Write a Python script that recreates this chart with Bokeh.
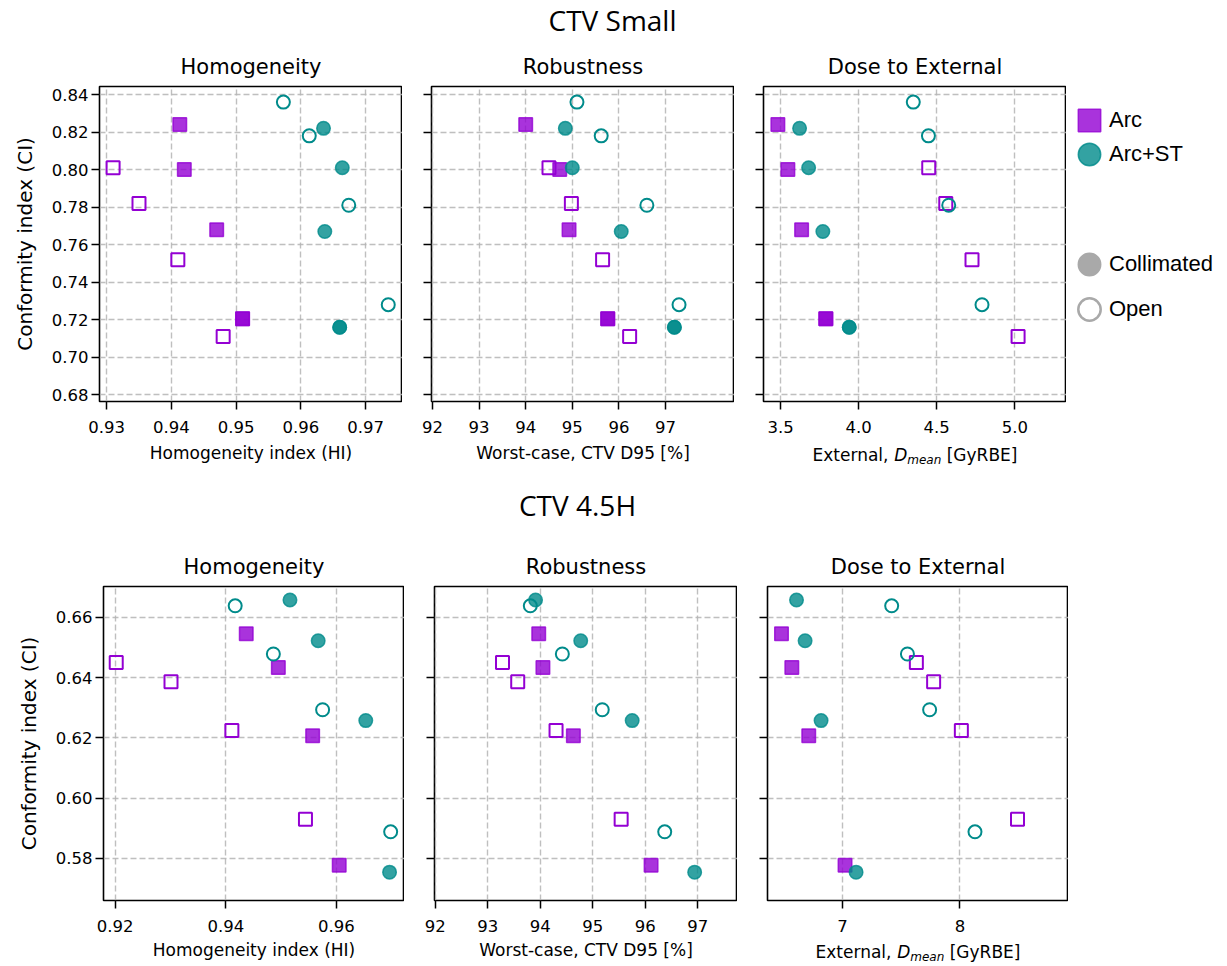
from bokeh.plotting import figure
from bokeh.layouts import column, row
from bokeh.models import (Range1d, FixedTicker, Label, Legend, LegendItem,
                          CustomJSTickFormatter, PrintfTickFormatter)
from bokeh.embed import file_html
from bokeh.resources import INLINE

NAN = float("nan")

# ---------------- data: CTV Small ----------------
small_arc_coll_hi = [0.9413, 0.9420, 0.9470, 0.9510, 0.9510]
small_arc_coll_d95 = [94.00, 94.73, 94.93, 95.76, 95.76]
small_arc_coll_ext = [3.483, 3.547, 3.635, 3.790, 3.790]
small_arc_coll_ci = [0.824, 0.800, 0.768, 0.7205, 0.7205]

small_arc_open_hi = [0.9310, 0.9350, 0.9410, 0.9480]
small_arc_open_d95 = [94.50, 94.98, 95.65, 96.23]
small_arc_open_ext = [4.449, 4.558, 4.726, 5.021]
small_arc_open_ci = [0.801, 0.782, 0.752, 0.711]

small_st_coll_hi = [0.9635, 0.9664, 0.9637, 0.9660, 0.9660]
small_st_coll_d95 = [94.85, 95.00, 96.05, 97.19, 97.19]
small_st_coll_ext = [3.622, 3.680, 3.771, 3.940, 3.940]
small_st_coll_ci = [0.822, 0.801, 0.767, 0.716, 0.716]

small_st_open_hi = [0.9573, 0.9613, 0.9674, 0.9735]
small_st_open_d95 = [95.10, 95.62, 96.60, 97.29]
small_st_open_ext = [4.350, 4.447, 4.577, 4.790]
small_st_open_ci = [0.836, 0.818, 0.781, 0.728]

# ---------------- data: CTV 4.5H ----------------
h_arc_coll_hi = [0.9437, 0.9495, 0.9557, 0.9605]
h_arc_coll_d95 = [93.97, 94.05, 94.63, 96.11]
h_arc_coll_ext = [6.481, 6.569, 6.713, 7.022]
h_arc_coll_ci = [0.6545, 0.6433, 0.6207, 0.5777]

h_arc_open_hi = [0.9202, 0.9301, 0.9411, 0.9544]
h_arc_open_d95 = [93.28, 93.57, 94.30, 95.54]
h_arc_open_ext = [7.629, 7.776, 8.012, 8.490]
h_arc_open_ci = [0.6450, 0.6386, 0.6224, 0.5930]

h_st_coll_hi = [0.9516, 0.9567, 0.9653, 0.9696]
h_st_coll_d95 = [93.91, 94.77, 95.75, 96.94]
h_st_coll_ext = [6.609, 6.682, 6.818, 7.116]
h_st_coll_ci = [0.6657, 0.6522, 0.6257, 0.5754]

h_st_open_hi = [0.9417, 0.9486, 0.9575, 0.9698]
h_st_open_d95 = [93.81, 94.42, 95.18, 96.37]
h_st_open_ext = [7.419, 7.553, 7.742, 8.128]
h_st_open_ci = [0.6638, 0.6478, 0.6293, 0.5888]

# ticks
small_ci_ticks = [0.68, 0.70, 0.72, 0.74, 0.76, 0.78, 0.80, 0.82, 0.84]
h_ci_ticks = [0.58, 0.60, 0.62, 0.64, 0.66]
small_hi_ticks = [0.93, 0.94, 0.95, 0.96, 0.97]
small_d95_ticks = [92, 93, 94, 95, 96, 97]
small_ext_ticks = [3.5, 4.0, 4.5, 5.0]
h_hi_ticks = [0.92, 0.94, 0.96]
h_d95_ticks = [92, 93, 94, 95, 96, 97]
h_ext_ticks = [7, 8]

panel_titles = ["Homogeneity", "Robustness", "Dose to External"]
suptitles = ["CTV Small", "CTV 4.5H"]
x_labels = ["Homogeneity index (HI)", "Worst-case, CTV D95 [%]"]
y_label = "Conformity index (CI)"
legend_labels = ["Arc", "Arc+ST", "Collimated", "Open"]

PURPLE = "#9400D3"
TEAL = "#008B8B"
GREY = "#a9a9a9"
FONT = "DejaVu Sans"

# DejaVu Sans advance widths (em) for the mixed-style label
ADV = {"E": .632, "x": .592, "t": .392, "e": .615, "r": .411, "n": .634, "a": .613,
       "l": .278, ",": .318, " ": .318, "D": .770, "m": .974, "[": .390, "G": .775,
       "y": .592, "R": .695, "B": .686, "]": .390}


def tw(s, size):
    return sum(ADV.get(c, 0.6) for c in s) * size


def blank_fig(w, h, xr=(0, 1), yr=(0, 1)):
    f = figure(width=w, height=h, x_range=Range1d(*xr), y_range=Range1d(*yr),
               output_backend="svg", toolbar_location=None, min_border=0,
               x_axis_location=None, y_axis_location=None, outline_line_color=None,
               background_fill_color="white", border_fill_color="white")
    f.grid.visible = False
    return f


def dmean_strip(w, h, frame_w, center_from_bottom):
    f = blank_fig(w, h)
    fs, fss = 17, 12
    total = tw("External, ", fs) + tw("D", fs) + tw("mean", fss) + tw(" [GyRBE]", fs)
    x0 = frame_w / 2 - total / 2
    xd = x0 + tw("External, ", fs)
    xm = xd + tw("D", fs)
    xb = xm + tw("mean", fss) + tw(" ", fs)
    c = center_from_bottom
    for txt, x, y, size, style in [("External,", x0, c, fs, "normal"),
                                    ("D", xd, c, fs, "italic"),
                                    ("mean", xm, c - 5.5, fss, "italic"),
                                    ("[GyRBE]", xb, c, fs, "normal")]:
        f.add_layout(Label(x=x, y=y, x_units="screen", y_units="screen", text=txt,
                           text_font=FONT, text_font_size=f"{size}px",
                           text_font_style=style, text_color="black",
                           text_align="left", text_baseline="middle"))
    return f


def make_panel(title, xr, yr, xticks, yticks, fw, fh, bl, bt, bb, left, xlabel,
               xfmt, yfmt, xl_standoff, xa_standoff):
    p = figure(frame_width=fw, frame_height=fh, x_range=Range1d(*xr), y_range=Range1d(*yr),
               output_backend="svg", toolbar_location=None,
               min_border_left=bl, min_border_right=0, min_border_top=bt, min_border_bottom=bb,
               background_fill_color="white", border_fill_color="white")
    p.title.text = title
    p.title.align = "center"
    p.title.text_font = FONT
    p.title.text_font_size = "21px"
    p.title.text_font_style = "normal"
    p.title.text_color = "black"
    p.title.standoff = 16
    p.outline_line_color = "black"
    p.outline_line_width = 1.6
    p.outline_line_alpha = 1.0
    for ax in (p.xaxis[0], p.yaxis[0]):
        ax.axis_line_color = None
        ax.major_tick_line_color = "black"
        ax.major_tick_line_width = 1.5
        ax.major_tick_out = 8
        ax.major_tick_in = 0
        ax.minor_tick_line_color = None
        ax.major_label_text_font = FONT
        ax.major_label_text_font_size = "16.5px"
        ax.major_label_text_color = "black"
        ax.axis_label_text_font = FONT
        ax.axis_label_text_font_style = "normal"
        ax.axis_label_text_color = "black"
    p.xaxis.ticker = FixedTicker(ticks=xticks)
    p.yaxis.ticker = FixedTicker(ticks=yticks)
    p.xaxis.formatter = PrintfTickFormatter(format=xfmt)
    p.xaxis.major_label_standoff = xl_standoff
    p.xaxis.axis_label_standoff = xa_standoff
    p.xaxis.axis_label_text_font_size = "17px"
    if xlabel is not None:
        p.xaxis.axis_label = xlabel
    p.yaxis.major_label_standoff = 3
    if left:
        p.yaxis.formatter = PrintfTickFormatter(format=yfmt)
        p.yaxis.axis_label = y_label
        p.yaxis.axis_label_text_font_size = "20px"
        p.yaxis.axis_label_standoff = 12
    else:
        p.yaxis.formatter = CustomJSTickFormatter(code="return '';")
    p.grid.grid_line_color = "#b4b4b4"
    p.grid.grid_line_width = 1.4
    p.grid.grid_line_dash = "6 3"
    p.grid.grid_line_alpha = 0.85
    return p


def draw_groups(p, arc_open, arc_coll, st_coll, st_open):
    p.scatter(arc_open[0], arc_open[1], marker="square", size=13, fill_color=None,
              line_color=PURPLE, line_width=2)
    p.scatter(arc_coll[0], arc_coll[1], marker="square", size=13.5, fill_color=PURPLE,
              fill_alpha=0.8, line_color=PURPLE, line_alpha=0.8, line_width=1.5)
    p.scatter(st_coll[0], st_coll[1], marker="circle", size=13.5, fill_color=TEAL,
              fill_alpha=0.8, line_color=TEAL, line_alpha=0.8, line_width=1.5)
    p.scatter(st_open[0], st_open[1], marker="circle", size=13, fill_color=None,
              line_color=TEAL, line_width=2)


# ---------------- row 1 (CTV Small) ----------------
Y1 = (0.6764, 0.8443)
FH1 = 315
BT1 = 42
tl = make_panel(panel_titles[0], (0.9289, 0.9757), Y1, small_hi_ticks, small_ci_ticks,
                303, FH1, 99, BT1, 69, True, x_labels[0], "%.2f", "%.2f", 11, 7)
tm = make_panel(panel_titles[1], (91.979, 98.48), Y1, small_d95_ticks, small_ci_ticks,
                303, FH1, 29, BT1, 69, False, x_labels[1], "%d", "%.2f", 11, 7)
tr = make_panel(panel_titles[2], (3.391, 5.331), Y1, small_ext_ticks, small_ci_ticks,
                303, FH1, 29, BT1, 40, False, None, "%.1f", "%.2f", 11, 7)
draw_groups(tl, (small_arc_open_hi, small_arc_open_ci), (small_arc_coll_hi, small_arc_coll_ci),
            (small_st_coll_hi, small_st_coll_ci), (small_st_open_hi, small_st_open_ci))
draw_groups(tm, (small_arc_open_d95, small_arc_open_ci), (small_arc_coll_d95, small_arc_coll_ci),
            (small_st_coll_d95, small_st_coll_ci), (small_st_open_d95, small_st_open_ci))
draw_groups(tr, (small_arc_open_ext, small_arc_open_ci), (small_arc_coll_ext, small_arc_coll_ci),
            (small_st_coll_ext, small_st_coll_ci), (small_st_open_ext, small_st_open_ci))
strip1 = dmean_strip(29 + 303, 29, 303, 16)

# legend figure
leg = blank_fig(161, BT1 + FH1 + 69)
r_arc = leg.rect(x=[NAN], y=[NAN], width=1, height=1, fill_color=PURPLE, fill_alpha=0.8,
                 line_color=PURPLE, line_alpha=0.8, line_width=1.5)
r_st = leg.ellipse(x=[NAN], y=[NAN], width=22, height=22, width_units="screen",
                   height_units="screen", fill_color=TEAL, fill_alpha=0.8,
                   line_color=TEAL, line_alpha=0.8, line_width=1.5)
r_coll = leg.ellipse(x=[NAN], y=[NAN], width=22, height=22, width_units="screen",
                     height_units="screen", fill_color=GREY, fill_alpha=1.0,
                     line_color=GREY, line_width=1.5)
r_open = leg.ellipse(x=[NAN], y=[NAN], width=22, height=22, width_units="screen",
                     height_units="screen", fill_color=None, line_color=GREY, line_width=2.5)


def mk_legend(items, loc, spacing):
    return Legend(items=items, location=loc, orientation="vertical", glyph_width=28,
                  glyph_height=28, spacing=spacing, padding=0, margin=0,
                  border_line_color=None, background_fill_alpha=0,
                  label_text_font="Liberation Sans", label_text_font_size="22px",
                  label_text_color="black", label_standoff=6, label_height=28)


leg.add_layout(mk_legend([LegendItem(label=legend_labels[0], renderers=[r_arc]),
                          LegendItem(label=legend_labels[1], renderers=[r_st])], (9, 233), 6))
leg.add_layout(mk_legend([LegendItem(label=legend_labels[2], renderers=[r_coll]),
                          LegendItem(label=legend_labels[3], renderers=[r_open])], (9, 78), 17))

# ---------------- row 2 (CTV 4.5H) ----------------
Y2 = (0.5660, 0.6702)
FH2 = 314
bl_ = make_panel(panel_titles[0], (0.9179, 0.9723), Y2, h_hi_ticks, h_ci_ticks,
                 301, FH2, 103, 46, 66, True, x_labels[0], "%.2f", "%.2f", 11, 5)
bm = make_panel(panel_titles[1], (91.985, 97.756), Y2, h_d95_ticks, h_ci_ticks,
                303, FH2, 30, 46, 66, False, x_labels[1], "%d", "%.2f", 11, 5)
br = make_panel(panel_titles[2], (6.362, 8.924), Y2, h_ext_ticks, h_ci_ticks,
                301, FH2, 30, 46, 40, False, None, "%d", "%.2f", 11, 5)
draw_groups(bl_, (h_arc_open_hi, h_arc_open_ci), (h_arc_coll_hi, h_arc_coll_ci),
            (h_st_coll_hi, h_st_coll_ci), (h_st_open_hi, h_st_open_ci))
draw_groups(bm, (h_arc_open_d95, h_arc_open_ci), (h_arc_coll_d95, h_arc_coll_ci),
            (h_st_coll_d95, h_st_coll_ci), (h_st_open_d95, h_st_open_ci))
draw_groups(br, (h_arc_open_ext, h_arc_open_ci), (h_arc_coll_ext, h_arc_coll_ci),
            (h_st_coll_ext, h_st_coll_ci), (h_st_open_ext, h_st_open_ci))
strip2 = dmean_strip(30 + 301, 26, 301, 15)


# ---------------- super titles ----------------
def sup_fig(text, h, cx, cy):
    f = blank_fig(1227, h)
    f.add_layout(Label(x=cx, y=cy, x_units="screen", y_units="screen", text=text,
                       text_font="Open Sans", text_font_size="28px", text_color="black",
                       text_align="center", text_baseline="middle"))
    return f


sup1 = sup_fig(suptitles[0], 44, 612, 25)
sup2 = sup_fig(suptitles[1], 70, 577, 36)

p = column(sup1, row(tl, tm, column(tr, strip1), leg), sup2,
           row(bl_, bm, column(br, strip2)))
open("out.html", "w").write(file_html(p, INLINE))
